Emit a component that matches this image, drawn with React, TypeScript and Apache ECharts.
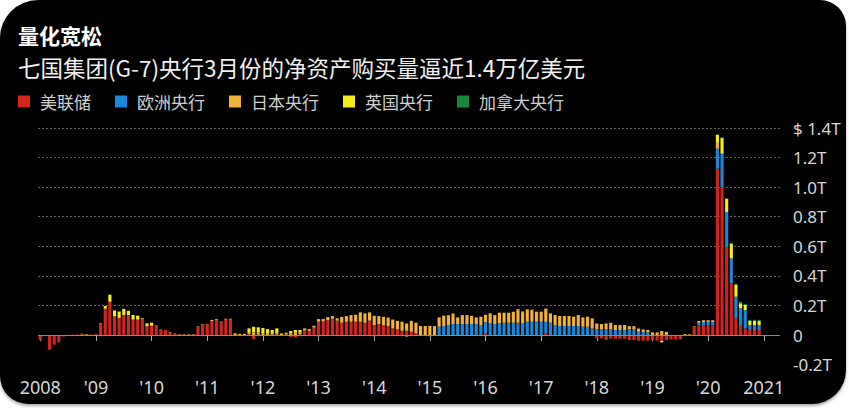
import React, { useEffect, useRef } from "react";
import * as echarts from "echarts";

// Monthly categories Jan 2008 .. Apr 2021 (last months empty)
const startYear = 2008;
const endYear = 2021;
const categories: string[] = [];
for (let y = startYear; y <= endYear; y++) {
  for (let m = 1; m <= 12; m++) {
    if (y === endYear && m > 4) break;
    categories.push(`${y}-${m < 10 ? "0" + m : m}`);
  }
}

const seriesNames = ["美联储", "欧洲央行", "日本央行", "英国央行", "加拿大央行"];
const seriesColors = ["#d0241c", "#1a86d8", "#f0b23a", "#f4ee1e", "#15883a"];

// Net asset purchases, billions of US dollars, Jan 2008 .. Dec 2020
const fed = [
  -35, -3, -100, -65, -50, -10, 2, 2, 3, 5, 4, 3,
  6, 78, 178, 225, 127, 116, 136, 136, 104, 104, 109, 59,
  63, 68, 41, 34, 18, 8, 3, 3, 3, 3, 56, 72,
  72, 95, 100, 86, 105, 105, 0, 0, 0, 5, -27, 2,
  0, 0, 2, 3, 0, 2, -12, -16, 4, 30, 28, 50,
  90, 92, 100, 110, 97, 83, 90, 90, 90, 90, 83, 97,
  67, 74, 67, 60, 45, 38, 29, 29, 22, 11, 0, 0,
  0, 0, -4, 0, 0, 0, 0, 0, 0, 0, 0, 0,
  8, 0, 0, 0, 0, 0, 0, 0, 0, 0, 0, 0,
  0, 10, 0, 0, 0, 0, 0, 0, 0, 0, -3, -5,
  -22, -22, -25, -25, -25, -25, -25, -34, -34, -38, -38, -38,
  -34, -38, -40, -34, -30, -30, -30, -3, 2, 58, 65, 68,
  68, 68, 1125, 1001, 596, 349, 113, 68, 45, 34, 34, 34,
];

const ecb = [
  0, 0, 0, 0, 0, 0, 0, 0, 0, 0, 0, 0,
  0, 0, 0, 0, 0, 0, 0, 0, 0, 0, 0, 0,
  0, 0, 0, 0, 0, 0, 0, 0, 0, 0, 0, 0,
  0, 0, 0, 0, 0, 0, 0, 0, 0, 0, 0, 0,
  0, 0, 0, 0, 0, 0, 0, 0, 0, 0, 0, 0,
  0, 0, 0, 0, 0, 0, 0, 0, 0, 0, 0, 0,
  0, 0, 0, 0, 0, 0, 0, 0, 0, 0, 0, 0,
  0, 0, 56, 61, 67, 74, 74, 74, 74, 74, 74, 68,
  79, 79, 74, 79, 83, 83, 83, 83, 79, 90, 90, 90,
  90, 79, 83, 68, 61, 61, 61, 61, 61, 56, 56, 45,
  38, 38, 38, 38, 34, 34, 34, 38, 38, 22, 20, 18,
  0, 0, 0, 0, 0, 0, 0, 0, 0, 0, 18, 20,
  20, 20, 135, 225, 236, 169, 146, 113, 124, 34, 34, 34,
];

const boj = [
  0, 0, 0, 0, 0, 0, 0, 0, 0, 0, 0, 0,
  0, 0, 0, 0, 0, 0, 0, 0, 0, 0, 0, 0,
  0, 0, 0, 0, 0, 0, 3, 3, 3, 3, 3, 3,
  3, 7, 7, 5, 5, 5, 12, 8, 8, 10, 16, 15,
  13, 12, 12, 12, 8, 10, 10, 16, 14, 15, 12, 13,
  18, 16, 21, 18, 16, 40, 38, 45, 47, 63, 63, 56,
  63, 54, 56, 58, 60, 58, 61, 49, 74, 72, 61, 61,
  62, 60, 63, 70, 67, 72, 45, 61, 61, 56, 45, 56,
  50, 68, 61, 72, 68, 68, 74, 85, 72, 79, 79, 68,
  68, 90, 63, 68, 68, 68, 68, 63, 74, 63, 68, 68,
  40, 36, 40, 45, 34, 34, 34, 22, 22, 22, 18, 16,
  18, 18, 27, 22, 0, 0, 0, 6, 4, 3, 12, 12,
  12, 12, 40, 0, 0, 0, 0, 0, 0, 0, 0, 0,
];

const boe = [
  0, 0, 0, 0, 0, 0, 0, 0, 0, 3, 3, 0,
  0, 3, 18, 48, 39, 43, 41, 29, 32, 27, 5, 20,
  20, 0, 0, 0, 2, 2, 0, 0, 0, 0, 0, 0,
  0, 0, 0, 0, 0, 0, 0, 0, 0, 30, 40, 35,
  35, 28, 20, 30, 3, 4, 17, 18, 16, 0, 0, 0,
  0, 0, 0, 0, 0, 0, 0, 0, 0, 0, 0, 0,
  0, 0, 0, 0, 0, 0, 0, -10, 0, 0, 0, 0,
  0, 0, 0, 0, 0, 0, 0, 0, -5, 0, 0, 0,
  0, 0, 0, 0, 0, 0, 0, 6, 8, 4, 2, 0,
  0, 0, 0, 0, 0, 0, 0, -4, 0, 0, 0, 0,
  0, 0, -4, 0, 0, 0, 0, 0, 0, 0, 0, 0,
  0, 0, -10, 0, 0, 0, 0, 0, 0, 0, 0, 0,
  0, 0, 55, 106, 90, 101, 83, 34, 34, 27, 27, 27,
];

const boc = [
  0, 0, 0, 0, 0, 0, 0, 0, 0, 0, 0, 0,
  0, 0, 0, 0, 0, 0, 0, 0, 0, 0, 0, 0,
  0, 0, 0, 0, 0, 0, 0, 0, 0, 0, 0, 0,
  0, 0, 0, 0, 0, 0, 0, 0, 0, 0, 0, 0,
  0, 0, 0, 0, 0, 0, 0, 0, 0, 0, 0, 0,
  0, 0, 0, 0, 0, 0, 0, 0, 0, 0, 0, 0,
  0, 0, 0, 0, 0, 0, 0, 0, 0, 0, 0, 0,
  0, 0, 0, 0, 0, 0, 0, 0, 0, 0, 0, 0,
  0, 0, 0, 0, 0, 0, 0, 0, 0, 0, 0, 0,
  0, 0, 0, 0, 0, 0, 0, 0, 0, 0, 0, 0,
  0, 0, 0, 0, 0, 0, 0, 0, 0, 0, 0, 0,
  0, 0, 0, 0, 0, 0, 0, 0, 0, 0, 0, 0,
  0, 0, 0, 5, 5, 5, 5, 11, 8, 8, 8, 8,
];

const yMin = -200;
const yMax = 1400;
const yStep = 200;

const CJK = '"Noto Sans CJK SC", "Noto Sans", sans-serif';
const LATIN = '"Noto Sans", "DejaVu Sans", sans-serif';

const isYearStart = (index: number) => index % 12 === 0;

export default function App() {
  const ref = useRef<HTMLDivElement>(null);

  useEffect(() => {
    if (!ref.current) return;
    const chart = echarts.init(ref.current, null, { renderer: "svg" });
    const values = [fed, ecb, boj, boe, boc];
    const option: any = {
      animation: false,
      backgroundColor: "transparent",
      textStyle: { fontFamily: CJK },
      title: [
        {
          text: "量化宽松",
          left: 18,
          top: 23,
          padding: 0,
          textStyle: {
            color: "#ffffff",
            fontSize: 21,
            lineHeight: 24,
            fontWeight: "bold",
            fontFamily: CJK,
          },
        },
        {
          text: "七国集团(G-7)央行3月份的净资产购买量逼近1.4万亿美元",
          left: 18,
          top: 55,
          padding: 0,
          textStyle: {
            color: "#f0f0f0",
            fontSize: 22.5,
            lineHeight: 24,
            fontWeight: "normal",
            fontFamily: CJK,
          },
        },
      ],
      legend: {
        data: seriesNames,
        left: 18,
        top: 93,
        padding: 0,
        icon: "rect",
        itemWidth: 12,
        itemHeight: 12,
        itemGap: 24,
        selectedMode: false,
        textStyle: { color: "#cfcfcf", fontSize: 17, fontFamily: CJK, padding: [0, 0, 0, 5] },
      },
      grid: { left: 38, right: 69, top: 128, bottom: 43.4 },
      xAxis: {
        type: "category",
        data: categories,
        boundaryGap: true,
        axisLine: { show: false },
        axisTick: {
          show: true,
          alignWithLabel: true,
          interval: isYearStart,
          length: 6,
          lineStyle: { color: "#a8a8a8", width: 1 },
        },
        axisLabel: {
          interval: isYearStart,
          color: "#d6d6d6",
          fontSize: 18,
          fontFamily: LATIN,
          margin: 13,
          formatter: (value: string) => {
            const y = value.slice(0, 4);
            if (y === "2008" || y === "2021") return y;
            return "'" + y.slice(2);
          },
        },
        splitLine: { show: false },
      },
      yAxis: {
        type: "value",
        position: "right",
        min: yMin,
        max: yMax,
        interval: yStep,
        axisLine: { show: false },
        axisTick: { show: false },
        splitLine: {
          show: true,
          showMinLine: false,
          lineStyle: { color: "#5f5f5f", type: [2, 2], width: 1 },
        },
        axisLabel: {
          color: "#d6d6d6",
          fontSize: 17,
          fontFamily: LATIN,
          margin: 13,
          formatter: (v: number) => {
            if (v === 0) return "0";
            const s = (v / 1000).toFixed(1) + "T";
            return v === yMax ? "$ " + s : s;
          },
        },
      },
      series: seriesNames.map((name, k) => ({
        name,
        type: "bar",
        stack: "qe",
        data: values[k],
        barWidth: "68%",
        itemStyle: { color: seriesColors[k] },
        emphasis: { disabled: true },
        silent: true,
        ...(k === 0
          ? {
              markLine: {
                silent: true,
                symbol: ["none", "none"],
                label: { show: false },
                lineStyle: { color: "#8a8a8a", type: "solid", width: 1 },
                data: [{ yAxis: 0 }],
              },
            }
          : {}),
      })),
    };
    chart.setOption(option);
    return () => chart.dispose();
  }, []);

  return (
    <div
      style={{
        position: "fixed",
        left: 0,
        top: 0,
        width: 849,
        height: 408,
        background: "#ffffff",
        overflow: "hidden",
      }}
    >
      <div
        style={{
          position: "absolute",
          left: 0,
          top: 0,
          width: 846,
          height: 404,
          background: "#000000",
          borderRadius: "38px 26px 34px 28px",
          boxShadow: "0 2px 3px rgba(0,0,0,0.35)",
        }}
      />
      <div ref={ref} style={{ position: "absolute", left: 0, top: 0, width: 849, height: 408 }} />
    </div>
  );
}
